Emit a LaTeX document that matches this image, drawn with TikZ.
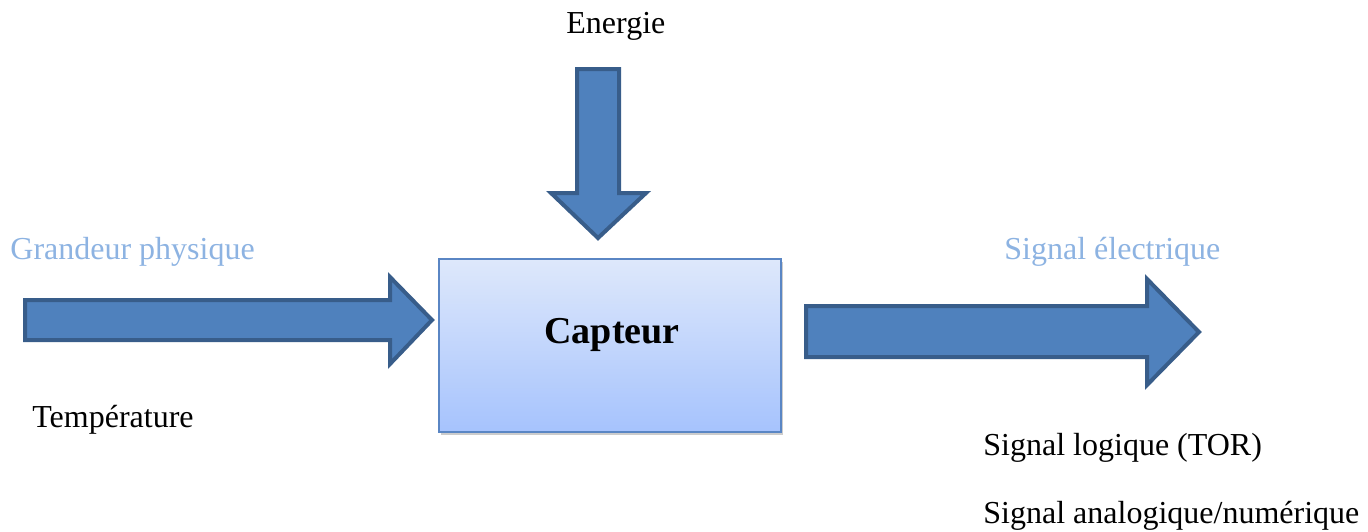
\documentclass[tikz,border=0pt]{standalone}
\usepackage{fontspec}
\setmainfont{Liberation Serif}
\usetikzlibrary{calc,shadows}
\definecolor{arrowfill}{HTML}{4F81BD}
\definecolor{arrowline}{HTML}{385D8A}
\definecolor{boxtop}{HTML}{DEE8FB}
\definecolor{boxbot}{HTML}{A6C3FD}
\definecolor{boxline}{HTML}{5A86C4}
\definecolor{lightlab}{HTML}{8DB3E2}
\tikzset{
  blockarrow/.style={fill=arrowfill, draw=arrowline, line width=2pt, line join=miter},
  sensor/.style={draw=boxline, line width=0.8pt, top color=boxtop, bottom color=boxbot,
    drop shadow={shadow xshift=1.2pt, shadow yshift=-1.5pt, opacity=0.4}},
  lab/.style={text=black, font=\fontsize{16}{19}\selectfont, inner sep=0pt, anchor=base west},
  labm/.style={text=lightlab, font=\fontsize{16}{19}\selectfont, inner sep=0pt, anchor=base west},
  title/.style={text=black, font=\fontsize{19}{23}\selectfont\bfseries, inner sep=0pt, anchor=base},
}

\begin{document}
\begin{tikzpicture}[x=0.5pt,y=-0.5pt]
  \useasboundingbox (0,0) rectangle (1368,531);
  % sensor block
  \node[sensor, minimum width=171pt, minimum height=86.5pt, inner sep=0pt] (capteur) at (610,345.5) {};
  \node[title] (captxt) at (612,343) {Capteur};
  % input arrow
  \draw[blockarrow] (25,300) -- (390,300) -- (390,277) -- (432,320) -- (390,364) -- (390,340) -- (25,340) -- cycle;
  % output arrow
  \draw[blockarrow] (806,306) -- (1147,306) -- (1147,279) -- (1199,332) -- (1147,385) -- (1147,357) -- (806,357) -- cycle;
  % energy arrow
  \draw[blockarrow] (577,69) -- (619,69) -- (619,193) -- (646,193) -- (598,238) -- (551,193) -- (577,193) -- cycle;
  % labels
  \node[lab] (energie) at (566,33) {Energie};
  \node[labm] (grandeur) at (10,259) {Grandeur physique};
  \node[lab] (temp) at (32,427) {Température};
  \node[labm] (signal) at (1004,259) {Signal électrique};
  \node[lab] (tor) at (983,455) {Signal logique (TOR)};
  \node[lab] (ana) at (983,523) {Signal analogique/numérique};
\end{tikzpicture}
\end{document}
